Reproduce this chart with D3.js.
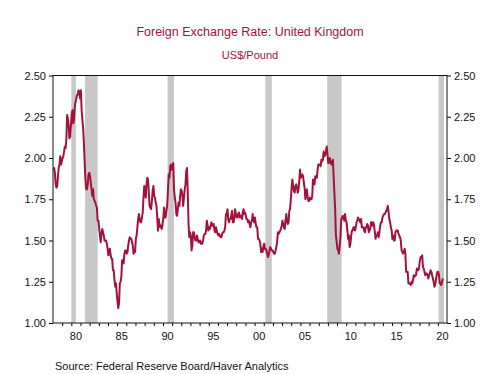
<!DOCTYPE html>
<html lang="en">

<head>
    <meta charset="UTF-8">
    <title>Foreign Exchange Rate: United Kingdom</title>
    <script src="https://cdnjs.cloudflare.com/ajax/libs/d3/7.8.5/d3.min.js"></script>
    <style>
        body {
            margin: 0;
            background-color: white;
            font-family: "Liberation Sans", Arial, sans-serif;
        }

        .axis text {
            font-size: 11px;
            fill: #111;
        }
    </style>
</head>

<body>
    <svg id="chart"></svg>

    <script>

        const width = 499;
        const height = 374;

        // monthly averages, US$ per pound, starting Jan 1978
        const startYear = 1978;
        const usdPerPound = [
            1.94, 1.94, 1.91, 1.84, 1.82, 1.83, 1.89, 1.94, 1.96, 2.01, 1.96, 1.98, // 78
            2.00, 2.01, 2.04, 2.07, 2.06, 2.11, 2.26, 2.24, 2.20, 2.12, 2.13, 2.20, // 79
            2.27, 2.29, 2.21, 2.23, 2.31, 2.34, 2.36, 2.38, 2.39, 2.41, 2.39, 2.36, // 80
            2.41, 2.29, 2.23, 2.18, 2.09, 1.97, 1.87, 1.81, 1.81, 1.84, 1.90, 1.91, // 81
            1.89, 1.85, 1.81, 1.77, 1.81, 1.75, 1.74, 1.73, 1.71, 1.70, 1.62, 1.62, // 82
            1.57, 1.53, 1.49, 1.54, 1.57, 1.55, 1.53, 1.50, 1.50, 1.50, 1.48, 1.45, // 83
            1.41, 1.44, 1.45, 1.41, 1.39, 1.39, 1.32, 1.32, 1.26, 1.22, 1.24, 1.18, // 84
            1.13, 1.09, 1.12, 1.24, 1.25, 1.28, 1.38, 1.38, 1.36, 1.42, 1.44, 1.44, // 85
            1.42, 1.43, 1.47, 1.50, 1.52, 1.51, 1.51, 1.49, 1.47, 1.42, 1.43, 1.43, // 86
            1.51, 1.53, 1.58, 1.63, 1.66, 1.63, 1.61, 1.61, 1.64, 1.67, 1.76, 1.83, // 87
            1.79, 1.76, 1.84, 1.88, 1.87, 1.79, 1.71, 1.70, 1.69, 1.74, 1.80, 1.83, // 88
            1.77, 1.76, 1.73, 1.71, 1.64, 1.56, 1.63, 1.60, 1.58, 1.59, 1.57, 1.60, // 89
            1.64, 1.70, 1.64, 1.64, 1.68, 1.71, 1.80, 1.90, 1.88, 1.95, 1.96, 1.93, // 90
            1.94, 1.97, 1.81, 1.76, 1.73, 1.66, 1.65, 1.69, 1.73, 1.71, 1.77, 1.81, // 91
            1.80, 1.77, 1.71, 1.76, 1.81, 1.84, 1.92, 1.94, 1.79, 1.60, 1.52, 1.55, // 92
            1.53, 1.44, 1.47, 1.55, 1.55, 1.52, 1.50, 1.50, 1.53, 1.51, 1.49, 1.49, // 93
            1.50, 1.48, 1.49, 1.48, 1.50, 1.53, 1.54, 1.54, 1.56, 1.62, 1.59, 1.56, // 94
            1.58, 1.57, 1.59, 1.61, 1.59, 1.59, 1.60, 1.56, 1.55, 1.58, 1.56, 1.54, // 95
            1.53, 1.54, 1.53, 1.52, 1.52, 1.54, 1.55, 1.55, 1.56, 1.58, 1.66, 1.66, // 96
            1.69, 1.63, 1.61, 1.63, 1.63, 1.65, 1.68, 1.61, 1.61, 1.64, 1.69, 1.66, // 97
            1.64, 1.64, 1.66, 1.67, 1.64, 1.65, 1.65, 1.63, 1.67, 1.69, 1.66, 1.67, // 98
            1.65, 1.63, 1.63, 1.61, 1.62, 1.60, 1.58, 1.61, 1.62, 1.66, 1.62, 1.61, // 99
            1.64, 1.60, 1.58, 1.58, 1.51, 1.51, 1.50, 1.48, 1.43, 1.45, 1.43, 1.46, // 00
            1.48, 1.45, 1.45, 1.44, 1.42, 1.40, 1.41, 1.44, 1.46, 1.45, 1.44, 1.44, // 01
            1.43, 1.42, 1.42, 1.44, 1.46, 1.49, 1.55, 1.54, 1.55, 1.56, 1.57, 1.59, // 02
            1.62, 1.60, 1.58, 1.57, 1.62, 1.66, 1.62, 1.60, 1.61, 1.68, 1.69, 1.75, // 03
            1.82, 1.87, 1.83, 1.80, 1.79, 1.83, 1.84, 1.82, 1.79, 1.81, 1.86, 1.93, // 04
            1.88, 1.89, 1.90, 1.89, 1.85, 1.82, 1.75, 1.79, 1.81, 1.76, 1.74, 1.74, // 05
            1.76, 1.75, 1.75, 1.77, 1.87, 1.85, 1.84, 1.89, 1.88, 1.88, 1.93, 1.96, // 06
            1.96, 1.96, 1.95, 1.99, 1.98, 1.99, 2.04, 2.01, 2.02, 2.04, 2.07, 2.02, // 07
            1.97, 1.97, 2.00, 1.98, 1.96, 1.97, 1.99, 1.89, 1.79, 1.69, 1.53, 1.49, // 08
            1.45, 1.44, 1.42, 1.47, 1.52, 1.63, 1.64, 1.65, 1.63, 1.62, 1.66, 1.62, // 09
            1.61, 1.56, 1.51, 1.53, 1.46, 1.48, 1.53, 1.56, 1.56, 1.58, 1.58, 1.56, // 10
            1.58, 1.61, 1.62, 1.64, 1.63, 1.62, 1.61, 1.63, 1.58, 1.58, 1.58, 1.56, // 11
            1.55, 1.58, 1.58, 1.60, 1.59, 1.55, 1.56, 1.57, 1.61, 1.61, 1.59, 1.61, // 12
            1.59, 1.55, 1.51, 1.53, 1.53, 1.55, 1.52, 1.55, 1.59, 1.61, 1.61, 1.64, // 13
            1.65, 1.66, 1.66, 1.67, 1.68, 1.69, 1.71, 1.67, 1.63, 1.61, 1.58, 1.56, // 14
            1.51, 1.53, 1.50, 1.50, 1.55, 1.56, 1.56, 1.56, 1.54, 1.53, 1.52, 1.50, // 15
            1.44, 1.43, 1.42, 1.43, 1.45, 1.42, 1.31, 1.31, 1.31, 1.24, 1.24, 1.24, // 16
            1.23, 1.25, 1.24, 1.26, 1.29, 1.28, 1.29, 1.29, 1.33, 1.32, 1.32, 1.34, // 17
            1.38, 1.40, 1.40, 1.41, 1.34, 1.33, 1.31, 1.29, 1.30, 1.30, 1.29, 1.27, // 18
            1.29, 1.30, 1.32, 1.31, 1.29, 1.27, 1.25, 1.22, 1.23, 1.26, 1.29, 1.31, // 19
            1.31, 1.29, 1.24, 1.24, 1.23, 1.25, 1.27                                // 20
        ];

        // recession periods, as decimal years
        const recessions = [
            [1980.0, 1980.5],
            [1981.5, 1982.88],
            [1990.5, 1991.2],
            [2001.17, 2001.88],
            [2007.92, 2009.5],
            [2020.08, 2020.67]
        ];

        const yTicks = [1.00, 1.25, 1.50, 1.75, 2.00, 2.25, 2.50];
        const xLabelYears = [1980, 1985, 1990, 1995, 2000, 2005, 2010, 2015, 2020];

        const red = "#a3123a";

        const plotLeft = 53, plotRight = 447, plotTop = 75.5, plotBottom = 323;

        let data = usdPerPound.map(function (v, i) {
            return { t: startYear + (i + 0.5) / 12, v: v };
        });

        let x = d3.scaleLinear().domain([1978, 2021]).range([plotLeft, plotRight]);
        let y = d3.scaleLinear().domain([1, 2.5]).range([plotBottom, plotTop]);

        let svg = d3.select("#chart")
            .attr("width", width)
            .attr("height", height);

        // titles
        svg.append("text")
            .attr("x", 250).attr("y", 35.5)
            .attr("text-anchor", "middle")
            .attr("font-size", 12.5)
            .attr("fill", red)
            .text("Foreign Exchange Rate: United Kingdom");

        svg.append("text")
            .attr("x", 250).attr("y", 58.5)
            .attr("text-anchor", "middle")
            .attr("font-size", 11)
            .attr("fill", red)
            .text("US$/Pound");

        // recession shading
        svg.append("g")
            .selectAll("rect")
            .data(recessions)
            .join("rect")
            .attr("x", d => x(d[0]))
            .attr("width", d => x(d[1]) - x(d[0]))
            .attr("y", plotTop)
            .attr("height", plotBottom - plotTop)
            .attr("fill", "#c8c8c8");

        svg.append("clipPath")
            .attr("id", "plot-clip")
            .append("rect")
            .attr("x", plotLeft).attr("y", plotTop)
            .attr("width", plotRight - plotLeft).attr("height", plotBottom - plotTop);

        // the series
        svg.append("path")
            .datum(data)
            .attr("clip-path", "url(#plot-clip)")
            .attr("fill", "none")
            .attr("stroke", red)
            .attr("stroke-width", 2)
            .attr("stroke-linejoin", "round")
            .attr("d", d3.line().x(d => x(d.t)).y(d => y(d.v)));

        // y axes, both sides
        svg.append("g")
            .attr("class", "axis")
            .attr("transform", "translate(" + plotLeft + ",0)")
            .call(d3.axisLeft(y).tickValues(yTicks).tickFormat(d3.format(".2f")).tickSize(4).tickPadding(3))
            .call(g => g.select(".domain").remove());

        svg.append("g")
            .attr("class", "axis")
            .attr("transform", "translate(" + plotRight + ",0)")
            .call(d3.axisRight(y).tickValues(yTicks).tickFormat(d3.format(".2f")).tickSize(4).tickPadding(3))
            .call(g => g.select(".domain").remove());

        // x axis: a tick at each year, labels centred on the year
        svg.append("g")
            .attr("class", "axis")
            .attr("transform", "translate(0," + plotBottom + ")")
            .call(d3.axisBottom(x).tickValues(d3.range(1979, 2021)).tickFormat("").tickSize(3))
            .call(g => g.select(".domain").remove());

        svg.append("g")
            .attr("class", "axis")
            .selectAll("text")
            .data(xLabelYears)
            .join("text")
            .attr("x", d => x(d + 0.5))
            .attr("y", plotBottom + 17)
            .attr("text-anchor", "middle")
            .text(d => String(d % 100).padStart(2, "0"));

        // frame
        svg.append("rect")
            .attr("x", plotLeft).attr("y", plotTop)
            .attr("width", plotRight - plotLeft).attr("height", plotBottom - plotTop)
            .attr("fill", "none")
            .attr("stroke", "#111")
            .attr("stroke-width", 1);

        svg.append("text")
            .attr("x", 55).attr("y", 370)
            .attr("font-size", 11)
            .attr("fill", "#111")
            .text("Source:  Federal Reserve Board/Haver Analytics");

    </script>
</body>

</html>
